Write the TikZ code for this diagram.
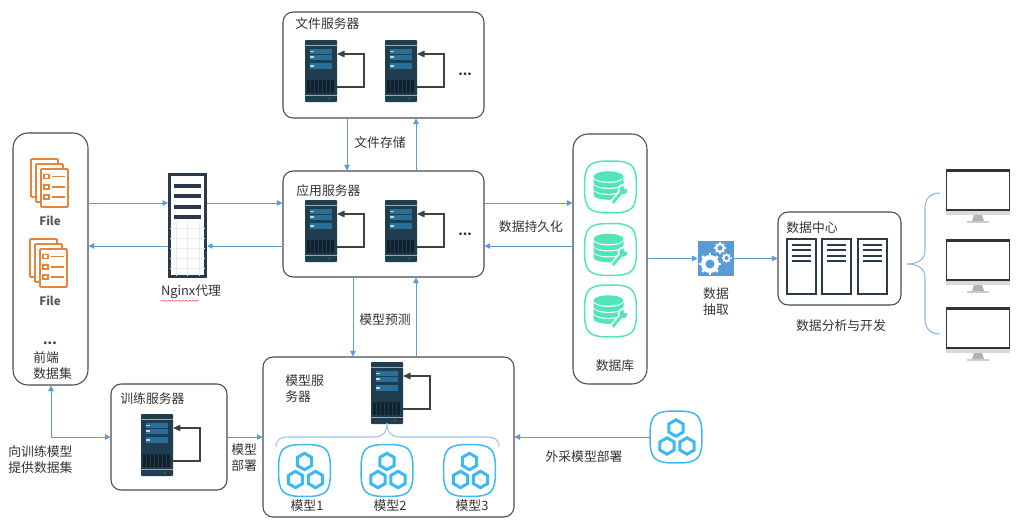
\documentclass[tikz,border=0pt]{standalone}
\usepackage{fontspec}
\setmainfont{Noto Sans CJK SC}
\usetikzlibrary{arrows.meta,decorations.pathmorphing}
\definecolor{linkblue}{HTML}{5B9BD5}
\definecolor{bracelite}{HTML}{9CC3E6}
\definecolor{panelgray}{HTML}{4A4A4A}
\definecolor{serverdark}{HTML}{1F3D50}
\definecolor{barblue}{HTML}{2A6F97}
\definecolor{darkink}{HTML}{2B3A4A}
\definecolor{fileorange}{HTML}{E8833A}
\definecolor{dbgreen}{HTML}{52E5B8}
\definecolor{hexblue}{HTML}{3BB9F5}
\newcommand{\squircle}[1]{\draw[#1,line width=0.85pt] (0,-26) .. controls (22,-26) and (26,-22) .. (26,0)
  .. controls (26,22) and (22,26) .. (0,26) .. controls (-22,26) and (-26,22) .. (-26,0)
  .. controls (-26,-22) and (-22,-26) .. (0,-26) -- cycle;}
\tikzset{
  panel/.style={draw=panelgray,line width=0.6pt,rounded corners=0.2cm},
  link/.style={linkblue,line width=0.45pt,-{Triangle[length=1.1mm,width=1.1mm]}},
  lbl/.style={font=\fontsize{7.3}{9}\selectfont,text=black!80,inner sep=0pt},
  serverpic/.pic={
    \fill[serverdark,rounded corners=0.5pt] (0,0) rectangle (32,62);
    \draw[black!35!white,line width=0.5pt] (0,5) -- (32,5);
    \draw[black!35!white,line width=0.5pt] (0,55) -- (32,55);
    \foreach \y/\h in {9/5,14.7/5.3,23/6}{
      \fill[barblue] (5,\y) rectangle (27,\y+\h);
      \fill[white!70!barblue] (5,\y+1.5) rectangle (9,\y+\h-2);
    }
    \fill[black!45!serverdark] (2,40) rectangle (30,53);
    \foreach \x in {5,9,...,29}{\draw[serverdark,line width=0.2pt] (\x,40) -- (\x,53);}
    \fill[green!60!black] (24,58.5) circle (1);
    \fill[red!70!black] (28,58.5) circle (1);
    \draw[black!75,line width=0.8pt,-{Triangle[length=1.5mm,width=1.3mm]}] (32,47) -- (59,47) -- (59,14) -- (32,14);
  },
  filepic/.pic={
    \foreach \s in {0,5,10}{
      \draw[fileorange,fill=white,line width=1pt,rounded corners=0.5pt] (\s,\s-1) rectangle (\s+27,\s+37);
    }
    \foreach \y in {16.5,27,37}{
      \draw[fileorange,line width=0.9pt] (13,\y-2) rectangle (18,\y+2);
      \draw[fileorange,line width=0.9pt] (21,\y) -- (34,\y);
    }
  },
  dbpic/.pic={
    \squircle{dbgreen}
    \foreach \y in {-9,-3,3}{
      \fill[dbgreen] (-17,\y) arc (180:0:15 and 5) -- (13,\y+4.8) arc (0:180:15 and 5) -- cycle;
    }
    \fill[dbgreen] (-2,-10.5) ellipse (15 and 5.2);
    \draw[white,line width=3.6pt] (2,16) -- (12,4);
    \fill[white] (13,3) circle (6);
    \draw[dbgreen,line width=1.6pt] (2,16) -- (12,4);
    \fill[dbgreen] (13,3) circle (4.2);
    \fill[white] (15.5,0) circle (2.4);
    \fill[white] (2,16) circle (0.8);
  },
  hexpic/.pic={
    \squircle{hexblue}
    \foreach \x/\y in {0/-9,-9/9,11/9}{
      \draw[shift={(\x,\y)},hexblue,line width=1.7pt] (30:8.2) -- (90:8.2) -- (150:8.2) -- (210:8.2) -- (270:8.2) -- (330:8.2) -- cycle;
    }
  },
  monitorpic/.pic={
    \fill[blue!10!black!15!white] (0,41) rectangle (64,46);
    \fill[gray!60] (28,46) -- (36,46) -- (38,52) -- (26,52) -- cycle;
    \fill[gray!40] (21,52) rectangle (43,54);
    \draw[black!80,line width=0.9pt] (0.5,1) rectangle (63.5,41);
    \fill[black!80] (0,0) rectangle (64,3);
  },
  rackpic/.pic={
    \draw[darkink,line width=1.2pt] (0,0) rectangle (29,55);
    \foreach \y in {6,11.3,16.6,22}{
      \draw[darkink,line width=1.1pt] (5,\y) -- (24,\y);
    }
  }
}
\begin{document}
\begin{tikzpicture}[x=0.02cm,y=-0.02cm]
\useasboundingbox (0,0) rectangle (1019,524);
% boxes
\node[panel,minimum width=4.02cm,minimum height=2.12cm] (filebox) at (383.5,65) {};
\node[panel,minimum width=4.02cm,minimum height=2.12cm] (appbox) at (383.5,224) {};
\node[panel,minimum width=5.02cm,minimum height=3.2cm] (modelbox) at (388.5,437) {};
\node[panel,rounded corners=0.3cm,minimum width=1.5cm,minimum height=5.04cm] (frontbox) at (50.5,259) {};
\node[panel,minimum width=2.32cm,minimum height=2.12cm] (trainbox) at (169,437) {};
\node[panel,rounded corners=0.3cm,minimum width=1.48cm,minimum height=5cm] (dbbox) at (610,259) {};
\node[panel,minimum width=2.46cm,minimum height=1.86cm] (centerbox) at (839.5,258.5) {};
% nginx
\node[draw=darkink,line width=1.7pt,minimum width=0.72cm,minimum height=2.04cm,inner sep=0pt] (nginx) at (187.5,225.5) {};
\foreach \x in {176,187.5,199}{\draw[black!8] (\x,222) -- (\x,276);}
\foreach \y in {228,238,248,258,268}{\draw[black!8] (170,\y) -- (205,\y);}
\foreach \y in {186,196,207,217}{\fill[darkink] (174,\y-1.7) rectangle (201,\y+1.7);}
% gears
\node[fill=linkblue,minimum size=0.72cm,inner sep=0pt] (gearbox) at (716,258.5) {};
\foreach \c/\r in {{710,264}/9,{720,248}/5,{726.5,258}/4}{
  \fill[white] (\c) circle (\r);
  \foreach \a in {0,45,...,315}{\draw[white,line width=\r*0.16pt,shift={(\c)}] (\a:\r) -- (\a:\r*1.2);}
  \fill[linkblue] (\c) circle (\r*0.5);
}
% servers
\foreach \x/\y in {305/40,385/40,305/200,385/200,141/414,371/362}{\pic at (\x,\y) {serverpic};}
\foreach \x/\y in {31/160,30/240}{\pic at (\x,\y) {filepic};}
\foreach \y in {187,249.5,311}{\pic at (610.5,\y) {dbpic};}
\foreach \x/\y in {304.5/470.5,387/470.5,469.5/470.5,676/437}{\pic at (\x,\y) {hexpic};}
\foreach \y in {169,239,307}{\pic at (946,\y) {monitorpic};}
\foreach \x in {787,822,858}{\pic at (\x,239) {rackpic};}
% braces
\coordinate (bracetip) at (387,423);
\draw[bracelite,line width=0.6pt] (276,447) .. controls (276,440) and (280,437) .. (288,437) -- (374,437) .. controls (383,437) and (387,432) .. (bracetip);
\draw[bracelite,line width=0.6pt] (499,447) .. controls (499,440) and (495,437) .. (487,437) -- (400,437) .. controls (391,437) and (387,432) .. (bracetip);
\coordinate (screentip) at (907,264);
\draw[linkblue!70!white,line width=0.6pt] (940,193) .. controls (930,193) and (925,199) .. (925,208) -- (925,250) .. controls (925,259) and (919,264) .. (screentip);
\draw[linkblue!70!white,line width=0.6pt] (940,334) .. controls (930,334) and (925,328) .. (925,319) -- (925,278) .. controls (925,269) and (919,264) .. (screentip);
% links
\draw[link] (frontbox.east |- 0,203) -- (nginx.west |- 0,203);
\draw[link] (nginx.east |- 0,203) -- (appbox.west |- 0,203);
\draw[link] (appbox.west |- 0,246) -- (nginx.east |- 0,246);
\draw[link] (nginx.west |- 0,246) -- (frontbox.east |- 0,246);
\draw[link] (filebox.south -| 347,0) -- (appbox.north -| 347,0);
\draw[link] (appbox.north -| 416,0) -- (filebox.south -| 416,0);
\draw[link] (appbox.south -| 353,0) -- (modelbox.north -| 353,0);
\draw[link] (modelbox.north -| 416,0) -- (appbox.south -| 416,0);
\draw[link] (appbox.east |- 0,203) -- (dbbox.west |- 0,203);
\draw[link] (dbbox.west |- 0,246) -- (appbox.east |- 0,246);
\draw[link] (dbbox.east |- gearbox.west) -- (gearbox.west);
\draw[link] (gearbox.east) -- (centerbox.west);
\draw[link,{Triangle[length=1.1mm,width=1.1mm]}-{Triangle[length=1.1mm,width=1.1mm]}] (frontbox.south -| 51,0) |- (trainbox.west);
\draw[link] (trainbox.east) -- (modelbox.west);
\coordinate (outsidehex) at (650,437);
\draw[link] (outsidehex) -- (modelbox.east);
% labels
\node[lbl,anchor=west] (filetitle) at (295,24) {文件服务器};
\node[lbl,anchor=west] (apptitle) at (296,191) {应用服务器};
\node[lbl,anchor=west] (traintitle) at (120,399) {训练服务器};
\node[lbl,anchor=west] (centertitle) at (786,228) {数据中心};
\node[lbl] (filedots) at (465,74) {\textbf{...}};
\node[lbl] (appdots) at (465,234) {\textbf{...}};
\node[lbl] (frontdots) at (50,343) {\textbf{...}};
\node[lbl] (storelabel) at (380,143) {文件存储};
\node[lbl] (predictlabel) at (385,320) {模型预测};
\node[lbl] (persistlabel) at (531,227) {数据持久化};
\node[lbl,text=black!65,font=\fontsize{6.6}{8}\selectfont\bfseries] (fileone) at (50,221) {File};
\node[lbl,text=black!65,font=\fontsize{6.6}{8}\selectfont\bfseries] (filetwo) at (50,301) {File};
\node[lbl] (nginxlabel) at (191,292) {Nginx代理};
\draw[red!80,line width=0.25pt,decorate,decoration={snake,amplitude=0.3pt,segment length=2pt}] (nginxlabel.south west) ++(0,1.5) -- ++(38,0);
\node[lbl,align=left,anchor=west] (frontlabel) at (33,366) {前端\\数据集};
\node[lbl] (dblabel) at (615,366) {数据库};
\node[lbl,align=center] (extractlabel) at (716,302) {数据\\抽取};
\node[lbl] (analysislabel) at (841,326) {数据分析与开发};
\node[lbl,align=left,anchor=west] (deploylabel) at (231,458) {模型\\部署};
\node[lbl,align=left,anchor=west] (modeltitle) at (285,388.5) {模型服\\务器};
\node[lbl] (modelone) at (307,506) {模型1};
\node[lbl] (modeltwo) at (390,506) {模型2};
\node[lbl] (modelthree) at (472,506) {模型3};
\node[lbl] (buylabel) at (584,457) {外采模型部署};
\node[lbl,align=left,anchor=west] (feedlabel) at (8,460) {向训练模型\\提供数据集};
\end{tikzpicture}
\end{document}
